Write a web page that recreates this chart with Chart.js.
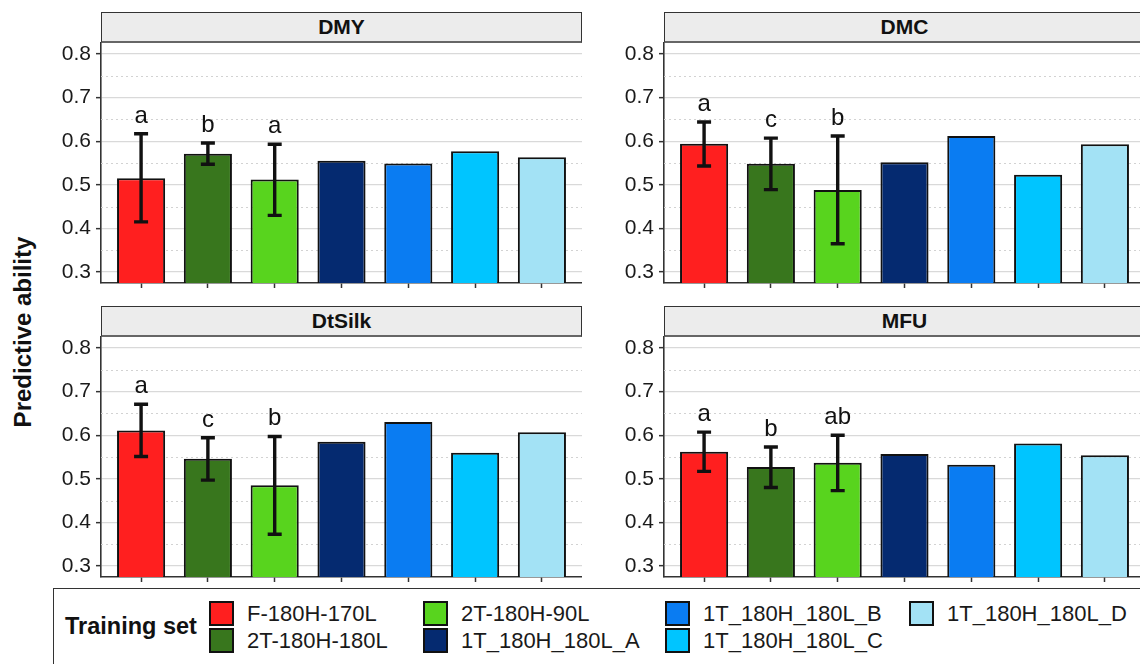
<!DOCTYPE html>
<html>
<head>
<meta charset="utf-8">
<script src="https://cdn.jsdelivr.net/npm/chart.js@4"></script>
<style>
body{margin:0;width:1140px;height:664px;overflow:hidden;background:#fff;position:relative;font-family:"Liberation Sans",Arial,sans-serif;color:#1a1a1a}
canvas{position:absolute}
.strip{position:absolute;height:28px;background:#ececec;border:1px solid #333;border-bottom:2px solid #666;font-weight:bold;font-size:21px;text-align:center;line-height:28px;color:#111}
#ytitle{position:absolute;left:23px;top:332px;transform:translate(-50%,-50%) rotate(-90deg);font-weight:bold;font-size:24px;white-space:nowrap;color:#111}
#legend{position:absolute;left:53px;top:588px;width:1200px;height:120px;border:1.5px solid #333;box-sizing:border-box}
.ltitle{position:absolute;left:65px;top:613px;font-weight:bold;font-size:23.5px;color:#111}
.key{position:absolute;width:25px;height:25px;border:2px solid #111;box-sizing:border-box}
.lab{position:absolute;font-size:22px;line-height:25px;color:#1a1a1a;white-space:nowrap}
</style>
</head>
<body>
<div id="ytitle">Predictive ability</div>
<div id="legend"></div>

<script>
const categories = ["F-180H-170L","2T-180H-180L","2T-180H-90L","1T_180H_180L_A","1T_180H_180L_B","1T_180H_180L_C","1T_180H_180L_D"];
const colors = ["#ff1f1f","#38761d","#58d41e","#052a70","#0a7cf2","#00c5ff","#a3e2f5"];
const traits = ["DMY","DMC","DtSilk","MFU"];

const dmy = [0.515,0.571,0.512,0.555,0.549,0.577,0.563];
const dmc = [0.594,0.548,0.488,0.552,0.612,0.523,0.593];
const dtsilk = [0.611,0.546,0.485,0.585,0.630,0.560,0.607];
const mfu = [0.562,0.527,0.537,0.557,0.532,0.581,0.554];

// error bars for the first three training sets
const dmyLow = [0.415,0.547,0.430], dmyHigh = [0.617,0.596,0.593];
const dmcLow = [0.543,0.489,0.365], dmcHigh = [0.644,0.607,0.612];
const dtsilkLow = [0.551,0.497,0.373], dtsilkHigh = [0.671,0.594,0.597];
const mfuLow = [0.517,0.480,0.473], mfuHigh = [0.607,0.573,0.600];

const dmyLetters = ["a","b","a"];
const dmcLetters = ["a","c","b"];
const dtsilkLetters = ["a","c","b"];
const mfuLetters = ["a","b","ab"];

const yTicks = [0.3,0.4,0.5,0.6,0.7,0.8];
const yMinor = [0.35,0.45,0.55,0.65,0.75];

const values = [dmy,dmc,dtsilk,mfu];
const lows = [dmyLow,dmcLow,dtsilkLow,mfuLow];
const highs = [dmyHigh,dmcHigh,dtsilkHigh,mfuHigh];
const letters = [dmyLetters,dmcLetters,dtsilkLetters,mfuLetters];

// panel placement
const panels = [
  {left:41, top:33, w:541},
  {left:604, top:33, w:541},
  {left:41, top:327, w:541},
  {left:604, top:327, w:541}
];

const extras = {
  id:"extras",
  beforeDatasetsDraw(chart){
    const {ctx, chartArea, scales:{y}} = chart;
    ctx.save();
    ctx.strokeStyle = "#d2d2d2";
    ctx.lineWidth = 1;
    ctx.setLineDash([2,3]);
    yMinor.forEach(v=>{
      const py = Math.round(y.getPixelForValue(v))+0.5;
      ctx.beginPath();
      ctx.moveTo(chartArea.left, py);
      ctx.lineTo(chartArea.right, py);
      ctx.stroke();
    });
    ctx.restore();
  },
  afterDatasetsDraw(chart){
    const k = chart.options.plugins.extras.panel;
    const {ctx, scales:{x,y}} = chart;
    ctx.save();
    ctx.strokeStyle = "#111";
    ctx.lineWidth = 3.4;
    ctx.fillStyle = "#111";
    ctx.font = "24px 'Liberation Sans', Arial, sans-serif";
    ctx.textAlign = "center";
    ctx.textBaseline = "alphabetic";
    lows[k].forEach((lo,i)=>{
      const px = x.getPixelForValue(i);
      const y1 = y.getPixelForValue(lo), y2 = y.getPixelForValue(highs[k][i]);
      ctx.beginPath();
      ctx.moveTo(px, y1); ctx.lineTo(px, y2);
      ctx.moveTo(px-7, y1); ctx.lineTo(px+7, y1);
      ctx.moveTo(px-7, y2); ctx.lineTo(px+7, y2);
      ctx.stroke();
      ctx.fillText(letters[k][i], px, y2-11);
    });
    ctx.restore();
  }
};

panels.forEach((p,k)=>{
  const cv = document.createElement("canvas");
  cv.width = p.w; cv.height = 260;
  cv.style.left = p.left+"px"; cv.style.top = p.top+"px";
  document.body.appendChild(cv);

  const strip = document.createElement("div");
  strip.className = "strip";
  strip.style.left = (p.left+60)+"px";
  strip.style.top = (p.top-21)+"px";
  strip.style.width = (p.w-60-2)+"px";
  strip.textContent = traits[k];
  document.body.appendChild(strip);

  new Chart(cv,{
    type:"bar",
    data:{
      datasets:[{
        data: values[k].map((v,i)=>({x:i, y:v})),
        backgroundColor: colors,
        borderColor:"#111",
        borderWidth:2,
        borderSkipped:false,
        categoryPercentage:1,
        barPercentage:0.72
      }]
    },
    options:{
      responsive:false,
      animation:false,
      layout:{padding:{top:10,left:0,right:0,bottom:0}},
      plugins:{legend:{display:false}, tooltip:{enabled:false}, extras:{panel:k}},
      scales:{
        x:{
          type:"linear", min:-0.6, max:6.6, offset:false,
          afterBuildTicks:s=>{ s.ticks = categories.map((c,i)=>({value:i})); },
          afterFit:s=>{ s.height = 10; s.paddingLeft = 0; s.paddingRight = 0; },
          ticks:{callback:()=>"", padding:0},
          grid:{offset:false, drawOnChartArea:false, tickLength:5, tickColor:"#333", tickWidth:1.5},
          border:{color:"#333", width:1.6}
        },
        y:{
          min:0.275, max:0.825,
          afterBuildTicks:s=>{ s.ticks = yTicks.map(v=>({value:v})); },
          afterFit:s=>{ s.width = 60; s.paddingTop = 0; s.paddingBottom = 0; },
          ticks:{color:"#1a1a1a", padding:5, font:{family:"'Liberation Sans', Arial, sans-serif", size:21}, callback:v=>v.toFixed(1)},
          grid:{color:"#d9d9d9", lineWidth:1.3, tickLength:5, tickColor:"#333", tickWidth:1.5},
          border:{color:"#333", width:1.6}
        }
      }
    },
    plugins:[extras]
  });
});

// legend
const legend = document.body;
const t = document.createElement("div");
t.className = "ltitle"; t.textContent = "Training set";
legend.appendChild(t);
const colX = [209,423,665,909];
const rowY = [601,628];
categories.forEach((c,i)=>{
  const col = Math.floor(i/2), row = i%2;
  const key = document.createElement("div");
  key.className = "key";
  key.style.left = colX[col]+"px"; key.style.top = rowY[row]+"px";
  key.style.background = colors[i];
  legend.appendChild(key);
  const lab = document.createElement("div");
  lab.className = "lab";
  lab.style.left = (colX[col]+38)+"px"; lab.style.top = rowY[row]+"px";
  lab.textContent = c;
  legend.appendChild(lab);
});
</script>
</body>
</html>
